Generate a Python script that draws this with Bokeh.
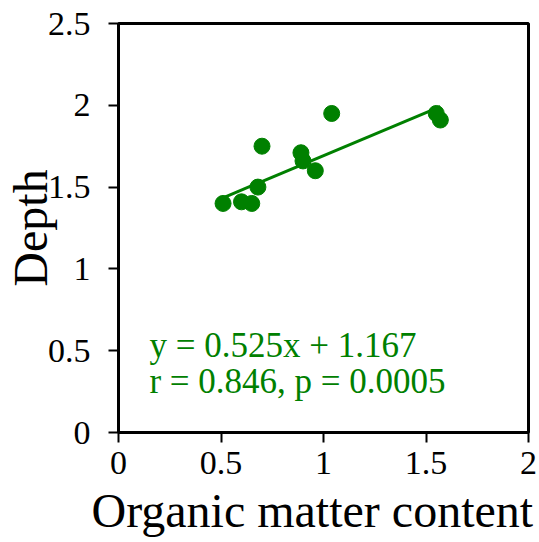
from bokeh.plotting import figure
from bokeh.models import Label, Range1d, FixedTicker, Title
from bokeh.embed import file_html
from bokeh.resources import INLINE

# Organic matter content vs. depth samples
organic_matter = [0.51, 0.60, 0.65, 0.68, 0.70, 0.89, 0.90, 0.96, 1.04, 1.55, 1.57]
depth = [1.40, 1.41, 1.40, 1.50, 1.75, 1.71, 1.66, 1.60, 1.95, 1.95, 1.91]

# Linear fit reported in the annotation
slope = 0.525
intercept = 1.167
r_value = 0.846
p_value = 0.0005

x_ticks = [0, 0.5, 1, 1.5, 2]
y_ticks = [0, 0.5, 1, 1.5, 2, 2.5]

GREEN = "#008000"
FONT = "Liberation Serif"

p = figure(width=539, height=542, output_backend="svg", toolbar_location=None,
           x_range=Range1d(0, 2), y_range=Range1d(0, 2.5),
           min_border_left=117, min_border_right=11,
           min_border_top=23, min_border_bottom=108)

p.grid.visible = False
p.outline_line_color = "black"
p.outline_line_width = 3
p.background_fill_color = "white"
p.border_fill_color = "white"

for ax, ticks in ((p.xaxis[0], x_ticks), (p.yaxis[0], y_ticks)):
    ax.ticker = FixedTicker(ticks=ticks)
    ax.axis_line_width = 3
    ax.axis_line_color = "black"
    ax.major_tick_line_width = 2
    ax.major_tick_out = 10
    ax.major_tick_in = 0
    ax.minor_tick_line_color = None
    ax.major_label_text_font = FONT
    ax.major_label_text_font_size = "34px"
    ax.major_label_text_color = "black"
    ax.axis_label_text_font = FONT
    ax.axis_label_text_font_size = "48px"
    ax.axis_label_text_font_style = "normal"
    ax.axis_label_text_color = "black"

p.yaxis.axis_label = "Depth"
p.xaxis.major_label_standoff = 9
p.yaxis.major_label_standoff = 18
p.yaxis.axis_label_standoff = -12

# x-axis title placed below the tick labels, starting left of the frame edge
p.add_layout(Title(text="Organic matter content", text_font=FONT,
                   text_font_size="48px", text_font_style="normal",
                   text_color="black", align="left", offset=-27,
                   standoff=11, text_line_height=0.8), "below")

# Regression line over the observed range
x0, x1 = min(organic_matter), max(organic_matter)
p.line([x0, x1], [slope * x0 + intercept, slope * x1 + intercept],
       line_color=GREEN, line_width=3)

p.scatter(organic_matter, depth, size=16, fill_color=GREEN, line_color=GREEN)

eq = f"y = {slope}x + {intercept}"
stats = f"r = {r_value}, p = {p_value}"
for txt, yy in ((eq, 0.53), (stats, 0.31)):
    p.add_layout(Label(x=0.151, y=yy, text=txt, text_font=FONT,
                       text_font_size="35px", text_color=GREEN,
                       text_baseline="alphabetic"))

open("out.html", "w").write(file_html(p, INLINE))
